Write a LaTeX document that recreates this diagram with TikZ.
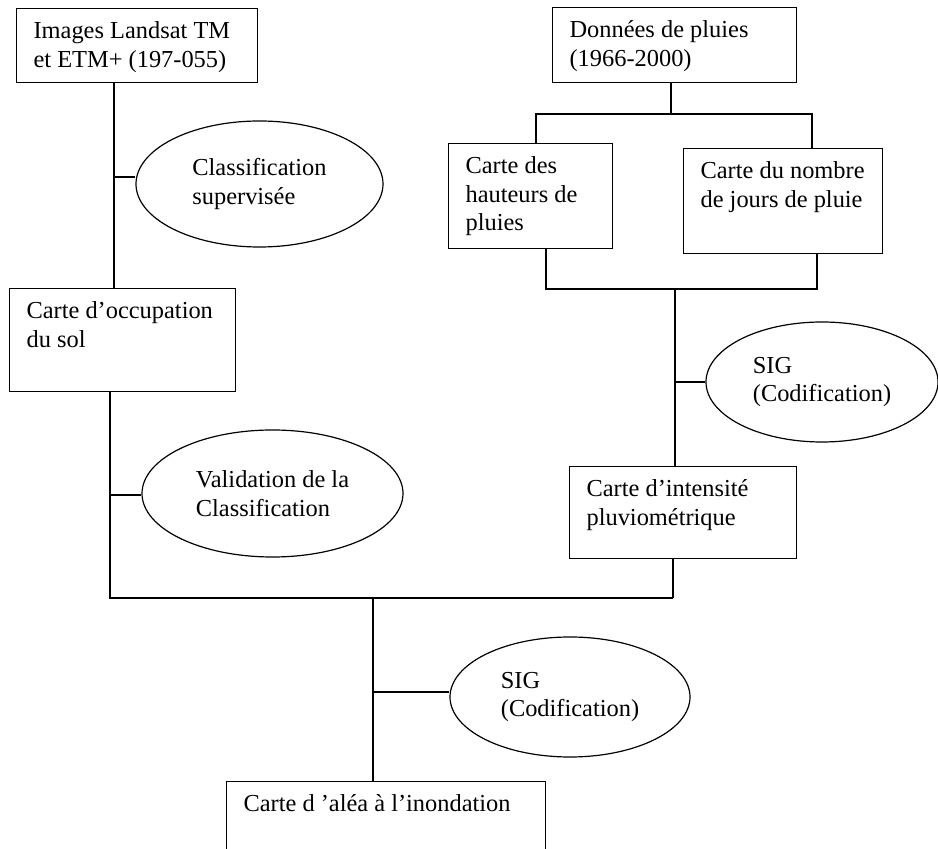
\documentclass[tikz,border=0pt]{standalone}
\usepackage{fontspec}
\setmainfont{Liberation Serif}
\usepackage{tikz}
\usetikzlibrary{shapes,calc}

\begin{document}
\begin{tikzpicture}[x=0.5pt, y=-0.5pt, line width=0.6pt]
            \tikzset{carte/.style={draw, rectangle, anchor=north west, inner sep=0pt},
                     txt/.style={anchor=north west, align=left, inner xsep=8.5pt, inner ysep=6.5pt, font=\fontsize{12.2pt}{14.3pt}\selectfont},
                     procede/.style={draw, ellipse, inner sep=0pt, align=left, font=\fontsize{12.2pt}{14.3pt}\selectfont}}
            \useasboundingbox (0,0) rectangle (938,849);
            \clip (0,0) rectangle (938,849);
            % cartes
            \node[carte, minimum width=120.5pt, minimum height=37pt, label={[txt]north west:Images Landsat TM\\et ETM+ (197-055)}] (landsat) at (16,8) {};
            \node[carte, minimum width=113pt, minimum height=51.5pt, label={[txt]north west:Carte d’occupation\\du sol}] (occsol) at (9,288) {};
            \node[carte, minimum width=122pt, minimum height=37.5pt, label={[txt]north west:Données de pluies\\(1966-2000)}] (pluies) at (552,7) {};
            \node[carte, minimum width=82pt, minimum height=52.5pt, label={[txt]north west:Carte des\\hauteurs de\\pluies}] (hauteurs) at (448,143) {};
            \node[carte, minimum width=99.5pt, minimum height=52.5pt, label={[txt]north west:Carte du nombre\\de jours de pluie}] (jours) at (683,148) {};
            \node[carte, minimum width=113.5pt, minimum height=46pt, label={[txt]north west:Carte d’intensité\\pluviométrique}] (intensite) at (569,466) {};
            \node[carte, minimum width=159.5pt, minimum height=50pt, label={[txt]north west:Carte d ’aléa à l’inondation}] (alea) at (226,781) {};
            % procedes
            \node[procede, minimum width=123.5pt, minimum height=63pt] (classif) at (259.5,184) {Classification\\supervisée};
            \node[procede, minimum width=130.5pt, minimum height=63.5pt] (valid) at (272.5,493.5) {Validation de la\\Classification};
            \node[procede, minimum width=116pt, minimum height=60pt] (sig1) at (822,382) {SIG\\(Codification)};
            \node[procede, minimum width=120pt, minimum height=60pt] (sig2) at (570,697) {SIG\\(Codification)};
            % jonctions
            \coordinate (j1) at (114,177);
            \coordinate (j2) at (110,495);
            \coordinate (j3) at (675,382);
            \coordinate (j4) at (373,692);
            \coordinate (bus) at (673,598);
            \coordinate (haut) at (671,114);
            \coordinate (bas) at (675,289);
            % liaisons
            \draw (landsat.south -| j1) -- (occsol.north -| j1);
            \draw (j1) -- (classif.west |- j1);
            \draw (occsol.south -| j2) -- (j2 |- bus) -- (bus);
            \draw (j2) -- (valid.west |- j2);
            \draw (intensite.south -| bus) -- (bus);
            \draw (j4 |- bus) -- (alea.north -| j4);
            \draw (j4) -- (sig2.west |- j4);
            \draw (pluies.south -| haut) -- (haut);
            \draw (hauteurs.north -| 536,0) -- (536,114) -- (812,114) -- (jours.north -| 812,0);
            \draw (hauteurs.south -| 546,0) -- (546,289) -- (817,289) -- (jours.south -| 817,0);
            \draw (bas) -- (intensite.north -| bas);
            \draw (j3) -- (sig1.west |- j3);
\end{tikzpicture}
\end{document}
